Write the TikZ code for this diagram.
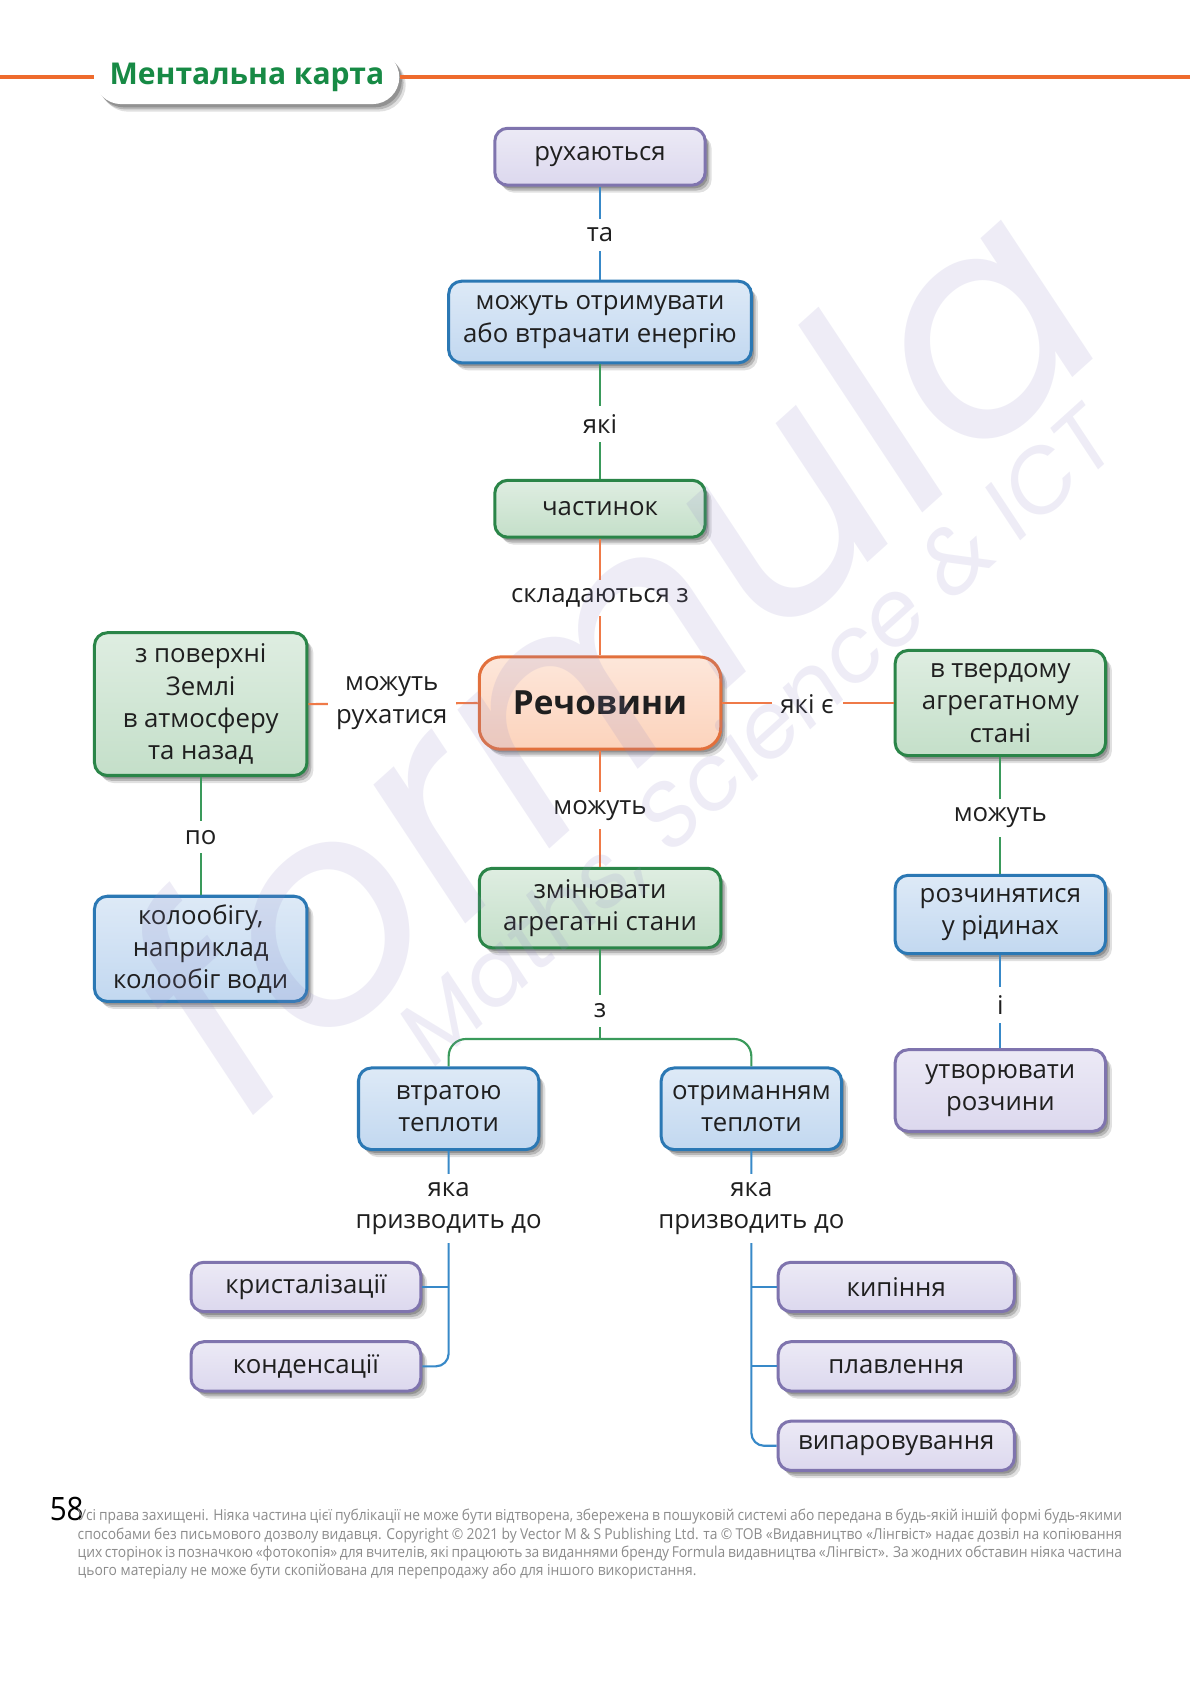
\documentclass[tikz,border=0pt]{standalone}
\usepackage{fontspec}
\setmainfont{Open Sans}
\newfontfamily\footfont[FakeStretch=0.92]{Open Sans}
\newfontfamily\wmfont[FakeSlant=0.15]{Poppins}
\usetikzlibrary{shadows}
\definecolor{orangeL}{HTML}{EE6B2D}
\definecolor{titleG}{HTML}{178A45}
\definecolor{purF}{HTML}{DCD8EE}
\definecolor{purD}{HTML}{7F74AE}
\definecolor{bluF}{HTML}{C2D8F0}
\definecolor{bluD}{HTML}{2B78B4}
\definecolor{grnF}{HTML}{C4DFC9}
\definecolor{grnD}{HTML}{2A8548}
\definecolor{orgF}{HTML}{FCD3BC}
\definecolor{orgD}{HTML}{E2703C}
\definecolor{cOr}{HTML}{EF7A48}
\definecolor{cGr}{HTML}{3A9A5B}
\definecolor{cBl}{HTML}{3889C8}
\definecolor{wm}{HTML}{8F86C6}
\definecolor{footG}{HTML}{8C8C8C}
\newcommand{\fs}{\fontsize{12}{15}\selectfont}
\begin{document}
\begin{tikzpicture}[x=0.5pt,y=-0.5pt,
  shd/.style={drop shadow={shadow xshift=3pt,shadow yshift=-3.5pt,opacity=0.12,fill=black},
              drop shadow={shadow xshift=2pt,shadow yshift=-2.5pt,opacity=0.18,fill=black},
              drop shadow={shadow xshift=1.2pt,shadow yshift=-1.5pt,opacity=0.2,fill=black}},
  bx/.style={rounded corners=6pt, line width=1.4pt, align=center, inner sep=2pt, font=\fs, text=black!88, shd},
  pur/.style={bx, draw=purD, top color=purF!55!white, bottom color=purF},
  blu/.style={bx, draw=bluD, top color=bluF!55!white, bottom color=bluF},
  grn/.style={bx, draw=grnD, top color=grnF!55!white, bottom color=grnF},
  org/.style={bx, draw=orgD, top color=orgF!55!white, bottom color=orgF, rounded corners=10pt},
  lab/.style={fill=white, inner xsep=4pt, inner ysep=4pt, font=\fs, align=center, text=black!88},
  cor/.style={draw=cOr, line width=1pt},
  cgr/.style={draw=cGr, line width=1pt},
  cbl/.style={draw=cBl, line width=1pt},
  wmark/.style={rotate=42, text=wm, opacity=0.15, inner sep=0pt},
  footline/.style={anchor=base west, inner sep=0pt, font=\footfont\fontsize{7}{8.5}\selectfont, text=footG}
]
\useasboundingbox (0,0) rectangle (1109,1568);
\fill[white] (0,0) rectangle (1109,1568);

% title bar
\coordinate (L0) at (0,72);
\coordinate (R0) at (1109,72);
\node[fill=white, rounded corners=12.5pt, minimum width=142pt, minimum height=25pt, shd,
      font=\bfseries\fontsize{14}{16}\selectfont, text=titleG] (T) at (230,72) {Ментальна карта};
\draw[orangeL, line width=2pt] (L0) -- (T.west);
\draw[orangeL, line width=2pt] (T.east) -- (R0);

% nodes
\node[pur, minimum width=98pt, minimum height=26.5pt] (A) at (559,146) {рухаються};
\node[blu, minimum width=141pt, minimum height=38pt] (B) at (559,300) {можуть отримувати\\або втрачати енергію};
\node[grn, minimum width=98pt, minimum height=26.5pt] (C) at (559,474) {частинок};
\node[org, minimum width=112.5pt, minimum height=43pt, font=\bfseries\fontsize{15.5}{18}\selectfont] (D) at (559,655) {Речовини};
\node[grn, minimum width=99pt, minimum height=66.5pt] (E) at (187,656) {з поверхні\\Землі\\в атмосферу\\та назад};
\node[blu, minimum width=99pt, minimum height=49pt] (F) at (187,884) {колообігу,\\наприклад\\колообіг води};
\node[grn, minimum width=98pt, minimum height=49pt] (G) at (932,655) {в твердому\\агрегатному\\стані};
\node[blu, minimum width=98pt, minimum height=36.5pt] (H) at (932,852) {розчинятися\\у рідинах};
\node[pur, minimum width=98pt, minimum height=38pt] (I) at (932,1016) {утворювати\\розчини};
\node[grn, minimum width=112.5pt, minimum height=37pt] (J) at (559,846) {змінювати\\агрегатні стани};
\node[blu, minimum width=84pt, minimum height=38pt] (K) at (418,1033) {втратою\\теплоти};
\node[blu, minimum width=84pt, minimum height=38pt] (L) at (700,1033) {отриманням\\теплоти};
\node[pur, minimum width=107pt, minimum height=23pt] (M) at (285,1199) {кристалізації};
\node[pur, minimum width=107pt, minimum height=23pt] (N) at (285,1273) {конденсації};
\node[pur, minimum width=110pt, minimum height=23pt] (O) at (835,1199) {кипіння};
\node[pur, minimum width=110pt, minimum height=23pt] (P) at (835,1273) {плавлення};
\node[pur, minimum width=110pt, minimum height=23pt] (Q) at (835,1347) {випаровування};

% connectors
\draw[cbl] (A.south) -- (B.north);
\draw[cgr] (B.south) -- (C.north);
\draw[cor] (C.south) -- (D.north);
\draw[cor] (D.west) -- (E.east);
\draw[cgr] (E.south) -- (F.north);
\draw[cor] (D.east) -- (G.west);
\draw[cgr] (G.south) -- (H.north);
\draw[cbl] (H.south) -- (I.north);
\draw[cor] (D.south) -- (J.north);
\coordinate (br) at (559,968);
\draw[cgr] (J.south) -- (br);
\draw[cgr, rounded corners=8pt] (K.north) |- (br) -| (L.north);
\draw[cbl, rounded corners=6pt] (K.south) |- (N.east);
\draw[cbl] (K.south |- M.east) -- (M.east);
\draw[cbl, rounded corners=6pt] (L.south) |- (Q.west);
\draw[cbl] (L.south |- O.west) -- (O.west);
\draw[cbl] (L.south |- P.west) -- (P.west);

% labels
\node[lab] (l1) at (559,219) {та};
\node[lab] (l2) at (559,395) {які};
\node[lab] (l3) at (559,557) {складаються з};
\node[lab] (l4) at (365,655) {можуть\\рухатися};
\node[lab] (l5) at (752,656) {які є};
\node[lab] (l6) at (187,780) {по};
\node[lab] (l7) at (559,755) {можуть};
\node[lab] (l8) at (932,762) {можуть};
\node[lab] (l9) at (932,936) {і};
\node[lab] (l10) at (559,942) {з};
\node[lab] (l11) at (418,1126) {яка\\призводить до};
\node[lab] (l12) at (700,1126) {яка\\призводить до};

% footer
\node[anchor=base west, inner sep=0pt, font=\footfont\fontsize{15}{16}\selectfont, text=black] (pg) at (46,1417) {58};
\node[footline] (f1) at (72,1417) {\makebox[486.5pt][s]{Усі права захищені. Ніяка частина цієї публікації не може бути відтворена, збережена в пошуковій системі або передана в будь-якій іншій формі будь-якими}};
\node[footline] (f2) at (72,1434) {\makebox[486.5pt][s]{способами без письмового дозволу видавця. Copyright © 2021 by Vector M \& S Publishing Ltd. та © ТОВ «Видавництво «Лінгвіст» надає дозвіл на копіювання}};
\node[footline] (f3) at (72,1451) {\makebox[486.5pt][s]{цих сторінок із позначкою «фотокопія» для вчителів, які працюють за виданнями бренду Formula видавництва «Лінгвіст». За жодних обставин ніяка частина}};
\node[footline] (f4) at (72,1468) {цього матеріалу не може бути скопійована для перепродажу або для іншого використання.};

% watermark
\node[wmark, font=\wmfont\fontsize{140}{140}\selectfont] (wm1) at (555,610) {formula};
\node[wmark, font=\wmfont\fontsize{42}{42}\selectfont] (wm2) at (705,690) {Maths, Science \& ICT};
\end{tikzpicture}
\end{document}
